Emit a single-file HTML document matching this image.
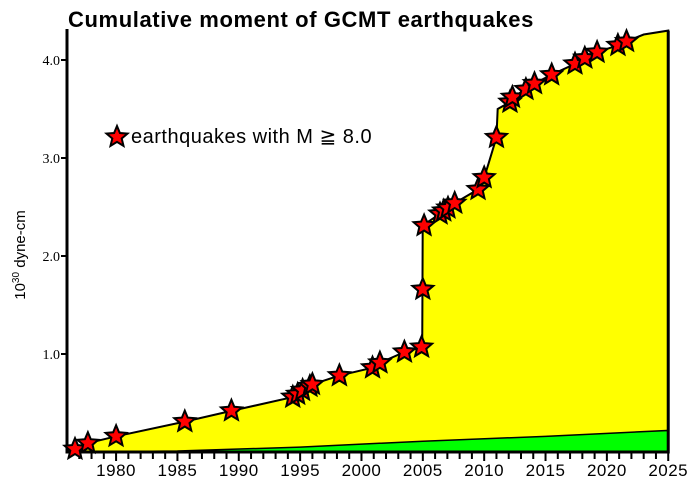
<!DOCTYPE html>
<html><head><meta charset="utf-8"><style>
body{margin:0;background:#fff;}
svg{display:block;font-family:"Liberation Sans",sans-serif;}
</style></head><body>
<svg id="chart" width="697" height="489" viewBox="0 0 697 489">
<text x="68" y="27" font-size="22" font-weight="bold" letter-spacing="0.6">Cumulative moment of GCMT earthquakes</text>
<g id="areas"></g>
<g id="axes"></g>
<g id="stars"></g>
<g>
<polygon id="legend-star" fill="red" stroke="#000" stroke-width="2"></polygon>
<text x="131" y="143" font-size="20" letter-spacing="0.5">earthquakes with M ≧ 8.0</text>
</g>
<text transform="translate(25,255) rotate(-90)" text-anchor="middle" font-size="15">10<tspan dy="-6" font-size="10">30</tspan><tspan dy="6"> dyne-cm</tspan></text>
</svg>
<script>
const curveYears=[1976,1976.65,1977.7,1980.0,1985.6,1989.4,1994.4,1994.8,1995.2,1995.8,1996.0,1998.2,2000.9,2001.5,2003.5,2004.95,2004.97,2004.99,2005.2,2006.4,2006.7,2007.05,2007.6,2009.5,2010.0,2010.3,2011.0,2011.1,2012.1,2012.3,2013.4,2014.1,2015.5,2017.4,2018.2,2019.2,2020.9,2021.6,2023,2025];
const curveValues=[0,0.03,0.09,0.16,0.31,0.42,0.56,0.59,0.63,0.67,0.69,0.78,0.86,0.91,1.02,1.07,1.66,2.31,2.33,2.43,2.46,2.49,2.54,2.68,2.80,2.92,3.21,3.50,3.57,3.62,3.70,3.76,3.85,3.96,4.02,4.08,4.15,4.19,4.26,4.30];
const starYears=[1976.65,1977.7,1980.0,1985.6,1989.4,1994.4,1994.8,1995.2,1995.8,1996.0,1998.2,2000.9,2001.5,2003.5,2004.9,2005.0,2005.1,2006.4,2006.7,2007.05,2007.6,2009.5,2010.0,2011.0,2012.1,2012.3,2013.4,2014.1,2015.5,2017.4,2018.2,2019.2,2020.9,2021.6];
const starValues=[0.03,0.09,0.16,0.31,0.42,0.56,0.59,0.63,0.67,0.69,0.78,0.86,0.91,1.02,1.07,1.66,2.31,2.43,2.46,2.49,2.54,2.68,2.80,3.21,3.57,3.62,3.70,3.76,3.85,3.96,4.02,4.08,4.15,4.19];
const greenYears=[1976,1985,1995,2005,2015,2025];
const greenValues=[0,0.01,0.05,0.11,0.16,0.22];
const yTicks=[1.0,2.0,3.0,4.0];
const yTickLabels=["1.0","2.0","3.0","4.0"];
const xTicks=[1980,1985,1990,1995,2000,2005,2010,2015,2020,2025];
const xTickLabels=["1980","1985","1990","1995","2000","2005","2010","2015","2020","2025"];
const X0=67,PX=12.27,Y0=452,PY=98;
const xs=y=>X0+(y-1976)*PX, ys=v=>Y0-v*PY;
const NS="http://www.w3.org/2000/svg";
function mk(tag,attrs,parent){const e=document.createElementNS(NS,tag);for(const k in attrs)e.setAttribute(k,attrs[k]);parent.appendChild(e);return e;}
const areas=document.getElementById('areas'),axes=document.getElementById('axes'),stars=document.getElementById('stars');
function areaPts(ya,va){let p=[xs(ya[0])+','+ys(0)];ya.forEach((y,i)=>p.push(xs(y)+','+ys(va[i])));p.push(xs(ya[ya.length-1])+','+ys(0));return p.join(' ');}
const ya=mk('polygon',{points:areaPts(curveYears,curveValues),fill:'#ffff00',stroke:'#000','stroke-width':2},areas);


const ga=mk('polygon',{points:areaPts(greenYears,greenValues),fill:'#00ff00',stroke:'#000','stroke-width':1.5},areas);


const ax=mk('path',{d:`M${X0},29 V${Y0} H${xs(2025)} V${ys(4.30)}`,fill:'none',stroke:'#000','stroke-width':3},axes);


for(let yr=1977;yr<=2025;yr++){const t=mk('line',{x1:xs(yr),x2:xs(yr),y1:Y0,y2:Y0+(yr%5===0?9:7),stroke:'#000','stroke-width':2},axes);

}
xTicks.forEach((v,i)=>{const t=mk('text',{x:xs(v),y:476,'text-anchor':'middle','font-size':17,'letter-spacing':'0.5'},axes);t.textContent=xTickLabels[i];

});
yTicks.forEach((v,i)=>{const l=mk('line',{x1:X0-6,x2:X0,y1:ys(v),y2:ys(v),stroke:'#000','stroke-width':2},axes);


const t=mk('text',{x:X0-7,y:ys(v)+5,'text-anchor':'end','font-size':14,'font-family':'Liberation Serif, serif'},axes);t.textContent=yTickLabels[i];

});
function starPts(cx,cy,R){const r=R*0.45,p=[];for(let k=0;k<10;k++){const a=-Math.PI/2+k*Math.PI/5,rr=k%2?r:R;p.push((cx+rr*Math.cos(a)).toFixed(1)+','+(cy+rr*Math.sin(a)).toFixed(1));}return p.join(' ');}
starYears.forEach((y,i)=>{const s=mk('polygon',{points:starPts(xs(y),ys(starValues[i]),11),fill:'red',stroke:'#000','stroke-width':2},stars);

});
document.getElementById('legend-star').setAttribute('points',starPts(117,137,11));
</script>
</body></html>
